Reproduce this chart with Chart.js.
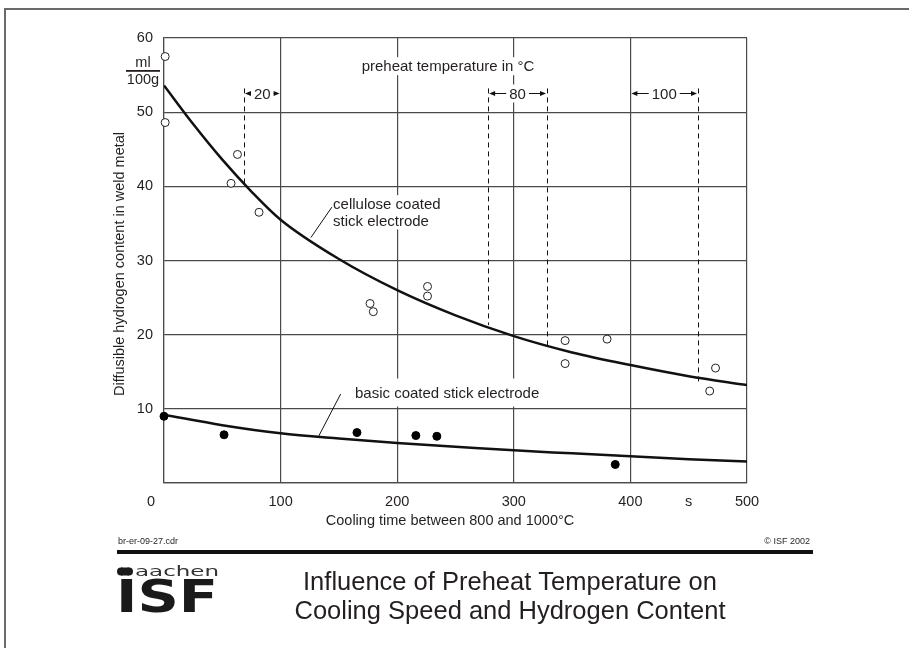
<!DOCTYPE html>
<html>
<head>
<meta charset="utf-8">
<script src="https://cdn.jsdelivr.net/npm/chart.js@4.4.0/dist/chart.umd.min.js"></script>
<style>
  html, body { margin: 0; padding: 0; background: #fff; }
  #wrap { width: 909px; height: 648px; position: relative; }
</style>
</head>
<body>
<div id="wrap"><canvas id="c" width="909" height="648"></canvas></div>
<script>
// measured points, cellulose coated stick electrode (open circles)
const cellPtsX = [1, 1, 57.5, 63, 81.5, 176.7, 179.5, 226, 226, 344, 344, 380, 468, 473];
const cellPtsY = [57.5, 48.6, 40.4, 44.3, 36.5, 24.2, 23.1, 26.5, 25.2, 19.2, 16.1, 19.4, 12.4, 15.5];
// fitted curve
const cellCurveX = [0, 25, 50, 75, 100, 150, 200, 250, 300, 350, 400, 450, 500];
const cellCurveY = [53.6, 48.4, 43.6, 39.3, 35.5, 30.2, 26.0, 22.6, 19.8, 17.6, 15.9, 14.4, 13.2];

// basic coated stick electrode (filled dots)
const basicPtsX = [0, 51.5, 165.5, 216, 234, 387];
const basicPtsY = [9.0, 6.5, 6.8, 6.4, 6.3, 2.5];
const basicCurveX = [0, 50, 100, 150, 200, 250, 300, 350, 400, 450, 500];
const basicCurveY = [9.2, 7.8, 6.7, 6.0, 5.4, 4.9, 4.4, 4.0, 3.6, 3.2, 2.9];

// preheat temperature markers
const preheatDashX = [68.6, 278, 328.5, 458];
const preheatDashEnd = [40.3, 21.3, 18.0, 13.7];
const preheatDashTop = 53.2;
const preheatLabels = ['20', '80', '100'];
const preheatFrom = [68.6, 278, 400];
const preheatTo = [100, 328.5, 458];
const preheatArrowY = 52.6;

// axis ticks
const xTickValues = [100, 200, 300, 400, 450, 500];
const xTickLabels = ['100', '200', '300', '400', 's', '500'];
const yTickValues = [10, 20, 30, 40, 50, 60];

const FONT = "'Liberation Sans', Arial, Helvetica, sans-serif";
const INK = '#231f20';
const GRID = '#4a4a4a';

Chart.defaults.font.family = FONT;
Chart.defaults.color = INK;

function toPts(xs, ys) {
  return xs.map((x, i) => ({ x: x, y: ys[i] }));
}

function arrow(ctx, x1, x2, y) {
  const dir = x2 > x1 ? 1 : -1;
  ctx.beginPath();
  ctx.moveTo(x1, y);
  ctx.lineTo(x2 - dir * 5, y);
  ctx.stroke();
  ctx.beginPath();
  ctx.moveTo(x2, y);
  ctx.lineTo(x2 - dir * 6, y - 2.6);
  ctx.lineTo(x2 - dir * 6, y + 2.6);
  ctx.closePath();
  ctx.fill();
}

function whiteBox(ctx, x, y, w, h) {
  ctx.fillStyle = '#fff';
  ctx.fillRect(x, y, w, h);
}

const annotations = {
  id: 'annotations',
  beforeDatasetsDraw(chart) {
    const ctx = chart.ctx;
    const xs = chart.scales.x, ys = chart.scales.y;
    ctx.save();

    // label backgrounds hiding the grid
    ctx.font = '15px ' + FONT;
    const ph = 'preheat temperature in °C';
    const phX = xs.getPixelForValue(243.6), phY = ys.getPixelForValue(56.2);
    const phW = ctx.measureText(ph).width;
    whiteBox(ctx, phX - phW / 2 - 3, phY - 9, phW + 6, 18);

    const cellX = xs.getPixelForValue(145);
    const cellY1 = ys.getPixelForValue(37.6), cellY2 = ys.getPixelForValue(35.4);
    const cw = Math.max(ctx.measureText('cellulose coated').width, ctx.measureText('stick electrode').width);
    whiteBox(ctx, cellX - 2, cellY1 - 9, cw + 4, cellY2 - cellY1 + 18);

    const bX = xs.getPixelForValue(163.8), bY = ys.getPixelForValue(12.2);
    const bw = ctx.measureText('basic coated stick electrode').width;
    whiteBox(ctx, bX - 3, bY - 14, bw + 6, 28);

    // preheat dashed lines
    ctx.strokeStyle = '#111';
    ctx.lineWidth = 1;
    ctx.setLineDash([5, 4]);
    preheatDashX.forEach((v, i) => {
      const px = Math.round(xs.getPixelForValue(v)) + 0.5;
      ctx.beginPath();
      ctx.moveTo(px, ys.getPixelForValue(preheatDashTop));
      ctx.lineTo(px, ys.getPixelForValue(preheatDashEnd[i]));
      ctx.stroke();
    });
    ctx.setLineDash([]);

    // preheat arrows and values
    ctx.fillStyle = '#111';
    ctx.font = '15px ' + FONT;
    ctx.textAlign = 'center';
    ctx.textBaseline = 'middle';
    const ay = Math.round(ys.getPixelForValue(preheatArrowY)) + 0.5;
    preheatLabels.forEach((lab, i) => {
      const l = xs.getPixelForValue(preheatFrom[i]);
      const r = xs.getPixelForValue(preheatTo[i]);
      const c = (l + r) / 2;
      const w = ctx.measureText(lab).width;
      ctx.fillStyle = '#fff';
      ctx.fillRect(c - w / 2 - 2, ay - 9, w + 4, 18);
      ctx.fillStyle = INK;
      ctx.fillText(lab, c, ay + 1);
      ctx.fillStyle = '#111';
      arrow(ctx, c - w / 2 - 3, l + 1, ay);
      arrow(ctx, c + w / 2 + 3, r - 1, ay);
    });

    // texts
    ctx.fillStyle = INK;
    ctx.fillText(ph, phX, phY + 1);
    ctx.textAlign = 'left';
    ctx.fillText('cellulose coated', cellX, cellY1 + 1);
    ctx.fillText('stick electrode', cellX, cellY2 + 1);
    ctx.fillText('basic coated stick electrode', bX, bY + 1);

    // leader lines
    ctx.strokeStyle = '#111';
    ctx.lineWidth = 1;
    ctx.beginPath();
    ctx.moveTo(xs.getPixelForValue(126), ys.getPixelForValue(33.1));
    ctx.lineTo(xs.getPixelForValue(144), ys.getPixelForValue(37.2));
    ctx.moveTo(xs.getPixelForValue(132.3), ys.getPixelForValue(6.2));
    ctx.lineTo(xs.getPixelForValue(151.5), ys.getPixelForValue(12.0));
    ctx.stroke();
    ctx.restore();
  },
  afterDraw(chart) {
    const ctx = chart.ctx;
    const xs = chart.scales.x, ys = chart.scales.y;
    ctx.save();

    // outer frame
    ctx.strokeStyle = '#6a6a6a';
    ctx.lineWidth = 2;
    ctx.strokeRect(5, 9, 1000, 1000);

    ctx.fillStyle = INK;
    ctx.textAlign = 'center';
    ctx.textBaseline = 'middle';
    ctx.font = '14.5px ' + FONT;
    // origin label
    ctx.fillText('0', xs.getPixelForValue(0) - 13, 502);
    // unit
    ctx.fillText('ml', 143, 63);
    ctx.fillText('100g', 143, 79.5);
    ctx.fillRect(126, 70, 34, 1.8);

    // axis titles
    ctx.fillText('Cooling time between 800 and 1000°C', 450, 521);
    ctx.save();
    ctx.translate(120, 264);
    ctx.rotate(-Math.PI / 2);
    ctx.fillText('Diffusible hydrogen content in weld metal', 0, 0);
    ctx.restore();

    // footer
    ctx.font = '9px ' + FONT;
    ctx.textAlign = 'left';
    ctx.fillText('br-er-09-27.cdr', 118, 542);
    ctx.textAlign = 'right';
    ctx.fillText('© ISF 2002', 810, 542);
    ctx.fillStyle = '#111';
    ctx.fillRect(117, 550, 696, 4);

    // title
    ctx.fillStyle = INK;
    ctx.textAlign = 'center';
    ctx.font = '25.5px ' + FONT;
    ctx.fillText('Influence of Preheat Temperature on', 510, 583);
    ctx.fillText('Cooling Speed and Hydrogen Content', 510, 612);

    // logo
    ctx.fillStyle = '#1a1a1a';
    ctx.beginPath();
    ctx.ellipse(121, 571.5, 4, 4, 0, 0, Math.PI * 2);
    ctx.ellipse(129, 571.5, 4, 4, 0, 0, Math.PI * 2);
    ctx.fill();
    ctx.fillRect(121, 567.5, 8, 8);
    ctx.save();
    ctx.textAlign = 'left';
    ctx.textBaseline = 'alphabetic';
    ctx.font = '14px "DejaVu Sans"';
    const aw = ctx.measureText('aachen').width;
    ctx.translate(135, 576);
    ctx.scale(84 / aw, 1);
    ctx.fillStyle = '#333';
    ctx.fillText('aachen', 0, 0);
    ctx.restore();
    ctx.save();
    ctx.textAlign = 'left';
    ctx.textBaseline = 'alphabetic';
    ctx.font = 'bold 44px "DejaVu Sans"';
    const iw = ctx.measureText('ISF').width;
    ctx.translate(116, 612);
    ctx.scale(102 / iw, 1);
    ctx.fillStyle = '#1a1a1a';
    ctx.fillText('ISF', 0, 0);
    ctx.restore();

    ctx.restore();
  }
};

new Chart(document.getElementById('c'), {
  type: 'scatter',
  data: {
    datasets: [
      {
        label: 'cellulose fit',
        data: toPts(cellCurveX, cellCurveY),
        showLine: true,
        cubicInterpolationMode: 'monotone',
        borderColor: '#111',
        borderWidth: 2.5,
        pointRadius: 0,
        order: 3
      },
      {
        label: 'basic fit',
        data: toPts(basicCurveX, basicCurveY),
        showLine: true,
        cubicInterpolationMode: 'monotone',
        borderColor: '#111',
        borderWidth: 2.5,
        pointRadius: 0,
        order: 3
      },
      {
        label: 'cellulose coated stick electrode',
        data: toPts(cellPtsX, cellPtsY),
        pointRadius: 4,
        pointBackgroundColor: '#fff',
        pointBorderColor: '#222',
        pointBorderWidth: 1,
        clip: false,
        order: 1
      },
      {
        label: 'basic coated stick electrode',
        data: toPts(basicPtsX, basicPtsY),
        pointRadius: 4,
        pointBackgroundColor: '#000',
        pointBorderColor: '#000',
        pointBorderWidth: 1,
        clip: false,
        order: 1
      }
    ]
  },
  options: {
    responsive: false,
    animation: false,
    devicePixelRatio: 1,
    layout: { padding: { top: 38, right: 162, left: 0, bottom: 0 } },
    plugins: {
      legend: { display: false },
      tooltip: { enabled: false }
    },
    scales: {
      x: {
        type: 'linear',
        min: 0,
        max: 500,
        afterFit(scale) { scale.height = 165; },
        ticks: {
          stepSize: 50,
          autoSkip: false,
          maxRotation: 0,
          padding: 10,
          font: { size: 14.5 },
          color: INK,
          callback(v) {
            const i = xTickValues.indexOf(v);
            return i < 0 ? '' : xTickLabels[i];
          }
        },
        grid: {
          drawTicks: false,
          color(ctx) {
            return ctx.tick && ctx.tick.value % 100 === 0 ? GRID : 'rgba(0,0,0,0)';
          },
          lineWidth: 1.2
        },
        border: { display: true, color: GRID, width: 1.2 }
      },
      y: {
        type: 'linear',
        min: 0,
        max: 60,
        afterFit(scale) { scale.width = 164; },
        ticks: {
          stepSize: 10,
          padding: 11,
          font: { size: 14.5 },
          color: INK,
          callback(v) { return yTickValues.includes(v) ? String(v) : ''; }
        },
        grid: { drawTicks: false, color: GRID, lineWidth: 1.2 },
        border: { display: true, color: GRID, width: 1.2 }
      }
    }
  },
  plugins: [annotations]
});
</script>
</body>
</html>
